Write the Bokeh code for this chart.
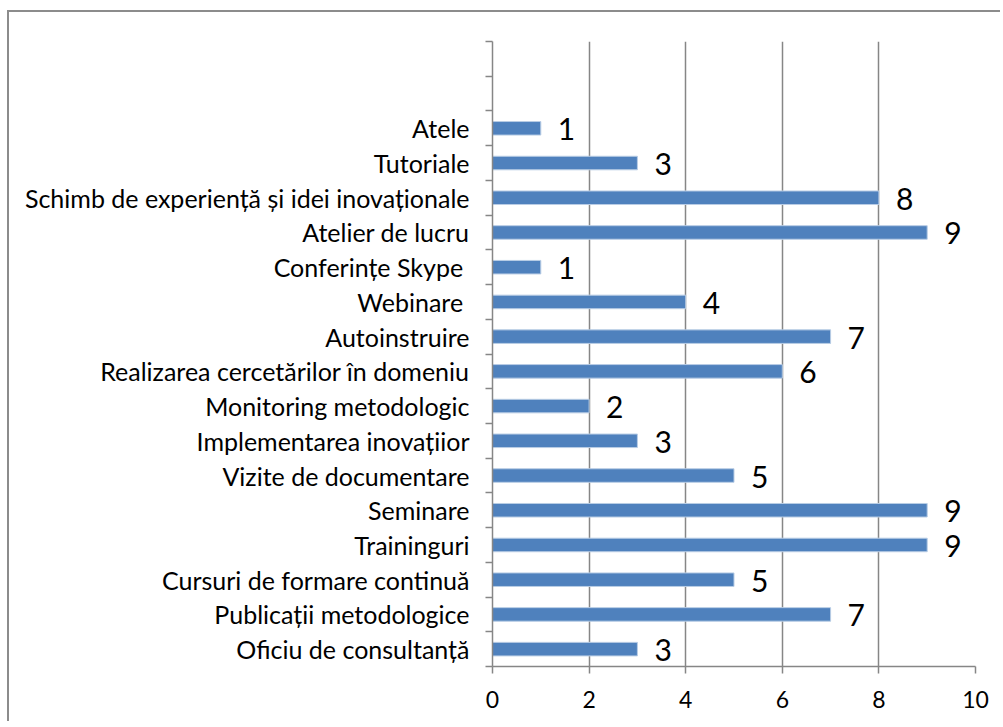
from bokeh.plotting import figure
from bokeh.models import ColumnDataSource, FixedTicker, Range1d, LabelSet
from bokeh.core.properties import value
from bokeh.embed import file_html
from bokeh.resources import INLINE

categories = [
    "Oficiu de consultanță",
    "Publicații metodologice",
    "Cursuri de formare continuă",
    "Traininguri",
    "Seminare",
    "Vizite de documentare",
    "Implementarea inovațiior",
    "Monitoring metodologic",
    "Realizarea cercetărilor în domeniu",
    "Autoinstruire",
    "Webinare ",
    "Conferințe Skype ",
    "Atelier de lucru",
    "Schimb de experiență și idei inovaționale",
    "Tutoriale",
    "Atele",
]
values = [3, 7, 5, 9, 9, 5, 3, 2, 6, 7, 4, 1, 9, 8, 3, 1]
x_ticks = [0, 2, 4, 6, 8, 10]
empty_slots = 2

n_slots = len(categories) + empty_slots
ypos = [i + 0.5 for i in range(len(categories))]

src = ColumnDataSource(dict(y=ypos, v=values, cat=categories,
                            lbl=[str(v) for v in values]))

FONT = "Lato"
GRAY = "#868686"

p = figure(width=991, height=709, output_backend="svg", toolbar_location=None,
           x_range=Range1d(0, 10), y_range=Range1d(0, n_slots),
           frame_width=483, frame_height=625,
           min_border_left=483, min_border_right=25,
           min_border_top=29, min_border_bottom=55,
           styles={"border-top": "2px solid #8c8c8c",
                   "border-left": "2px solid #8c8c8c",
                   "margin-left": "7px", "margin-top": "10px"})
p.outline_line_color = None
p.background_fill_color = "white"
p.border_fill_color = "white"

p.hbar(y="y", left=0, right="v", height=0.39, source=src,
       fill_color="#4F81BD", line_color="#B9CDE5", line_width=1)

labels = LabelSet(x="v", y="y", text="lbl", source=src, x_offset=17, y_offset=-1,
                  text_baseline="middle", text_align="left",
                  text_font=value(FONT), text_font_size="30px", text_color="black")
p.add_layout(labels)

# grid
p.ygrid.grid_line_color = None
p.xgrid.ticker = FixedTicker(ticks=x_ticks[1:])
p.xgrid.grid_line_color = GRAY
p.xgrid.grid_line_width = 1.5

# x axis
p.xaxis.ticker = FixedTicker(ticks=x_ticks)
p.xaxis.axis_line_color = GRAY
p.xaxis.axis_line_width = 1.5
p.xaxis.major_tick_line_color = GRAY
p.xaxis.major_tick_line_width = 1.5
p.xaxis.major_tick_out = 7
p.xaxis.major_tick_in = 0
p.xaxis.minor_tick_line_color = None
p.xaxis.major_label_text_font = FONT
p.xaxis.major_label_text_font_size = "23px"
p.xaxis.major_label_text_color = "black"
p.xaxis.major_label_standoff = 17

# y axis: labels at slot centres, ticks at slot boundaries
p.yaxis.ticker = FixedTicker(ticks=ypos, minor_ticks=list(range(n_slots + 1)))
p.yaxis.major_label_overrides = {y: c for y, c in zip(ypos, categories)}
p.yaxis.axis_line_color = GRAY
p.yaxis.axis_line_width = 1.5
p.yaxis.major_tick_line_color = None
p.yaxis.major_tick_out = 0
p.yaxis.major_tick_in = 0
p.yaxis.minor_tick_line_color = GRAY
p.yaxis.minor_tick_line_width = 1.5
p.yaxis.minor_tick_out = 7
p.yaxis.minor_tick_in = 0
p.yaxis.major_label_text_font = FONT
p.yaxis.major_label_text_font_size = "25px"
p.yaxis.major_label_text_color = "black"
p.yaxis.major_label_standoff = 16

open("out.html", "w").write(file_html(p, INLINE))
